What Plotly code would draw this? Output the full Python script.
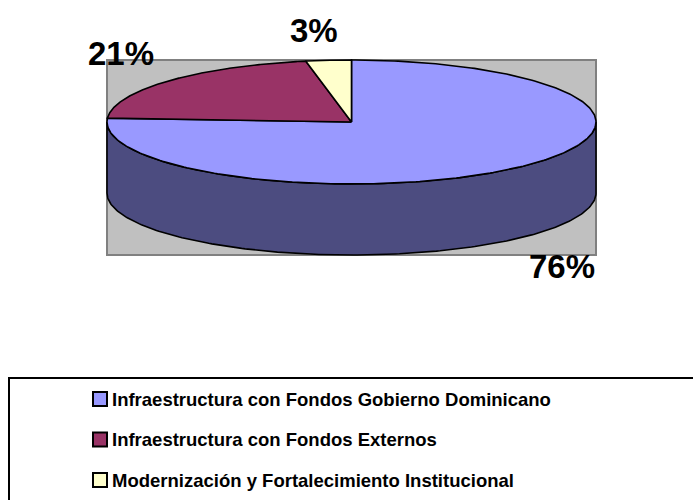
import numpy as np
import plotly.graph_objects as go

# ---- data ----
labels = ["Infraestructura con Fondos Gobierno Dominicano",
          "Infraestructura con Fondos Externos",
          "Modernización y Fortalecimiento Institucional"]
values = [76, 21, 3]
pct_text = ["76%", "21%", "3%"]

# ---- style ----
top_colors = ["#9999FF", "#993366", "#FFFFCC"]
side_colors = ["#4C4C80", "#4D1A33", "#808066"]
W, H = 693, 500
cx, cy, rx, ry, depth = 351.5, 122, 244.5, 62, 71
FONT = "Liberation Sans, Arial, sans-serif"

fig = go.Figure()

# background plot area
fig.add_shape(type="rect", x0=cx - rx, x1=cx + rx, y0=cy - ry, y1=cy + ry + depth,
              fillcolor="#C0C0C0", line=dict(color="#808080", width=2), layer="below")

total = float(sum(values))
starts = np.cumsum([0] + values[:-1]) / total * 360.0
ends = np.cumsum(values) / total * 360.0


def pt(theta_deg, dy=0.0):
    t = np.radians(theta_deg)
    return cx + rx * np.sin(t), cy - ry * np.cos(t) + dy


# side faces (front half: 90..270 degrees clockwise from top)
for i, (a, b) in enumerate(zip(starts, ends)):
    s, e = max(a, 90.0), min(b, 270.0)
    if e <= s:
        continue
    th = np.linspace(s, e, 200)
    xt, yt = pt(th)
    xb, yb = pt(th[::-1], depth)
    xs = np.concatenate([xt, xb, xt[:1]])
    ys = np.concatenate([yt, yb, yt[:1]])
    fig.add_trace(go.Scatter(x=xs, y=ys, mode="lines", fill="toself",
                             fillcolor=side_colors[i],
                             line=dict(color="black", width=1.6),
                             hoverinfo="skip", showlegend=False))

# top faces
for i, (a, b) in enumerate(zip(starts, ends)):
    th = np.linspace(a, b, 300)
    xt, yt = pt(th)
    xs = np.concatenate([[cx], xt, [cx]])
    ys = np.concatenate([[cy], yt, [cy]])
    fig.add_trace(go.Scatter(x=xs, y=ys, mode="lines", fill="toself",
                             fillcolor=top_colors[i],
                             line=dict(color="black", width=1.6),
                             name=labels[i], text=pct_text[i],
                             hoverinfo="name+text", showlegend=False))

# percentage labels (placed outside the slice, at its mid angle)
for i, (a, b) in enumerate(zip(starts, ends)):
    mid = np.radians((a + b) / 2)
    s_, c_ = np.sin(mid), np.cos(mid)
    lx = cx + 1.2 * rx * s_ + np.sign(s_) * 10
    ly = cy - 1.13 * ry * c_ - np.sign(c_) * 22 + (depth if c_ < 0 else 0)
    fig.add_annotation(x=lx, y=ly, text=pct_text[i], showarrow=False,
                       xanchor="center", yanchor="middle",
                       font=dict(family=FONT, size=33, color="black", weight="bold"))

# legend box
fig.add_shape(type="rect", x0=9, x1=W + 20, y0=378, y1=H + 20,
              fillcolor="rgba(0,0,0,0)", line=dict(color="black", width=2))
row0, gap = 399, 40.5
for i, lab in enumerate(labels):
    yy = row0 + i * gap
    fig.add_shape(type="rect", x0=93, x1=107, y0=yy - 7, y1=yy + 7,
                  fillcolor=top_colors[i], line=dict(color="black", width=2))
    fig.add_annotation(x=110, y=yy, text=lab, showarrow=False,
                       xanchor="left", yanchor="middle",
                       font=dict(family=FONT, size=18.5, color="black", weight="bold"))

fig.update_layout(width=W, height=H, autosize=False,
                  margin=dict(l=0, r=0, t=0, b=0),
                  paper_bgcolor="white", plot_bgcolor="white",
                  showlegend=False,
                  xaxis=dict(range=[0, W], visible=False, fixedrange=True),
                  yaxis=dict(range=[H, 0], visible=False, fixedrange=True))

fig.write_html("out.html",
               config={"displayModeBar": False},
               post_script="document.body.style.margin='0';document.body.style.overflow='hidden';")
